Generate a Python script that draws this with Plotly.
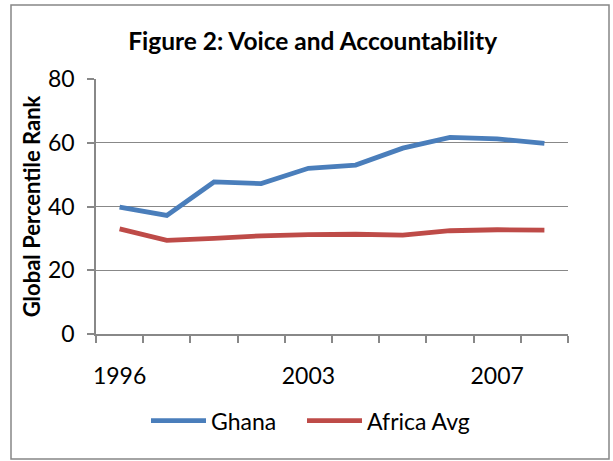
import plotly.graph_objects as go

years = ["1996", "1998", "2000", "2002", "2003", "2004", "2005", "2006", "2007", "2008"]
ghana = [39.8, 37.2, 47.7, 47.2, 52.0, 53.0, 58.3, 61.7, 61.2, 59.8]
africa_avg = [33.0, 29.4, 30.0, 30.8, 31.2, 31.3, 31.0, 32.4, 32.7, 32.6]
y_ticks = [0, 20, 40, 60, 80]
label_every = 4

idx = list(range(len(years)))
FONT = "Lato, Carlito, 'Liberation Sans', sans-serif"
GRID = "#888888"

fig = go.Figure()
fig.add_trace(go.Scatter(x=idx, y=ghana, mode="lines", name="Ghana", legend="legend",
                         line=dict(color="#4a7ebb", width=4.8)))
fig.add_trace(go.Scatter(x=idx, y=africa_avg, mode="lines", name="Africa Avg", legend="legend2",
                         line=dict(color="#be4b48", width=4.8)))

tv = idx[::label_every]
leg_common = dict(orientation="h", xanchor="left", y=-0.34, yanchor="middle",
                  font=dict(size=23), itemwidth=55, bgcolor="rgba(0,0,0,0)")
fig.update_layout(
    width=613, height=461,
    margin=dict(l=96, r=45, t=79, b=127),
    paper_bgcolor="white", plot_bgcolor="white",
    font=dict(family=FONT, size=23, color="black"),
    title=dict(text="<b>Figure 2: Voice and Accountability</b>", x=0.51, xanchor="center",
               y=1 - 41 / 461, yanchor="middle", font=dict(size=24.5, family=FONT)),
    showlegend=True,
    legend=dict(x=(146 - 96) / 472, **leg_common),
    legend2=dict(x=(302 - 96) / 472, **leg_common),
    xaxis=dict(range=[-0.5, len(years) - 0.5], tickmode="array", tickvals=tv,
               ticktext=[years[i] for i in tv], ticks="", showgrid=False,
               showline=True, linecolor=GRID, linewidth=1.5, zeroline=False,
               ticklabelstandoff=21,
               minor=dict(tickmode="linear", tick0=-0.5, dtick=1, ticks="outside",
                          ticklen=7, tickcolor=GRID, tickwidth=1.5, showgrid=False)),
    yaxis=dict(range=[0, 80], tickmode="array", tickvals=y_ticks, showgrid=True,
               gridcolor=GRID, gridwidth=1.3, showline=True, linecolor=GRID, linewidth=1.5,
               ticks="outside", ticklen=7, tickcolor=GRID, tickwidth=1.5, zeroline=False,
               ticklabelstandoff=8,
               title=dict(text="<b>Global Percentile Rank</b>", standoff=1,
                          font=dict(size=22))),
)
fig.add_shape(type="rect", xref="paper", yref="paper",
              x0=(11 - 96) / 472, x1=(609 - 96) / 472,
              y0=(334 - 459) / 255, y1=(334 - 5) / 255,
              line=dict(color="#878787", width=1.5), fillcolor="rgba(0,0,0,0)", layer="below")
fig.write_html("out.html", config={"displayModeBar": False},
               post_script="document.body.style.margin='0';document.body.style.overflow='hidden';")
